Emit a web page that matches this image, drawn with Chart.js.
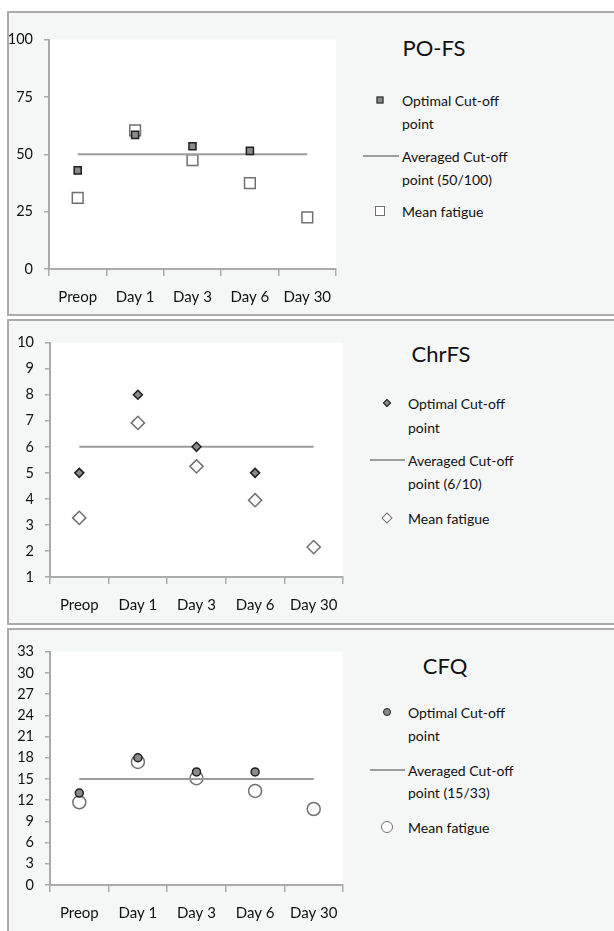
<!DOCTYPE html>
<html>
<head>
<meta charset="utf-8">
<script src="https://cdn.jsdelivr.net/npm/chart.js@4/dist/chart.umd.min.js"></script>
<style>
  html, body { margin: 0; padding: 0; background: #ffffff; overflow: hidden; }
  body { width: 614px; height: 931px; position: relative; font-family: Lato, "Open Sans", sans-serif; color: #111111; }
  .panel { position: absolute; left: 7px; width: 660px; border: 2px solid #ababab; background: #f5f6f6; box-sizing: border-box; }
  .cv { position: absolute; left: 0; }
  .title { position: absolute; font-size: 22px; transform: translate(-50%, -50%); white-space: nowrap; }
  .item { position: absolute; font-size: 14px; line-height: 23px; white-space: nowrap; transform: translateY(-50%); }
  .mk { position: absolute; box-sizing: border-box; transform: translate(-50%, -50%); }
  .seg { position: absolute; height: 2px; background: #9c9c9c; transform: translateY(-50%); }
</style>
</head>
<body>
<div class="panel" style="top:11px;height:305px;"></div>
<div class="panel" style="top:319px;height:306px;"></div>
<div class="panel" style="top:628px;height:330px;"></div>

<canvas id="c1" class="cv"></canvas>
<canvas id="c2" class="cv"></canvas>
<canvas id="c3" class="cv"></canvas>

<div id="legends"></div>

<script>
// categories on the x axis (same for every panel)
const categories = ['Preop', 'Day 1', 'Day 3', 'Day 6', 'Day 30'];

// PO-FS panel
const pofsOptimal = [43, 58.5, 53.5, 51.5, null];
const pofsAveraged = [50, 50, 50, 50, 50];
const pofsMean = [31, 60.5, 47.5, 37.5, 22.5];
const pofsTicks = [0, 25, 50, 75, 100];

// ChrFS panel
const chrfsOptimal = [5, 8, 6, 5, null];
const chrfsAveraged = [6, 6, 6, 6, 6];
const chrfsMean = [3.27, 6.92, 5.25, 3.95, 2.15];
const chrfsTicks = [1, 2, 3, 4, 5, 6, 7, 8, 9, 10];

// CFQ panel
const cfqOptimal = [13, 18, 16, 16, null];
const cfqAveraged = [15, 15, 15, 15, 15];
const cfqMean = [11.7, 17.4, 15.1, 13.3, 10.75];
const cfqTicks = [0, 3, 6, 9, 12, 15, 18, 21, 24, 27, 30, 33];

// legend texts
const optimalLabel = ['Optimal Cut-off', 'point'];
const meanLabel = 'Mean fatigue';

Chart.defaults.font.family = 'Lato, "Open Sans", sans-serif';
Chart.defaults.font.size = 15;
Chart.defaults.color = '#111111';

const axisGrey = '#ababab';

// white plotting area
const plotBackground = {
    id: 'plotBackground',
    beforeDraw(chart) {
        const a = chart.chartArea;
        const ctx = chart.ctx;
        ctx.save();
        ctx.fillStyle = '#ffffff';
        ctx.fillRect(a.left, a.top, a.right - a.left, a.bottom - a.top);
        ctx.restore();
    }
};

const panels = [
    {
        id: 'c1', title: 'PO-FS', style: 'rect', optimal: pofsOptimal, averaged: pofsAveraged, mean: pofsMean,
        ticks: pofsTicks, avgLabel: ['Averaged Cut-off', 'point (50/100)'],
        plotTop: 40, plotBottom: 269, plotLeft: 49, plotRight: 336,
        rOpt: 5, rMean: 7.6,
        legend: { titleX: 434, titleY: 47, markX: 380, textX: 402, segX: 363, rows: [100, 123, 156, 179, 211] }
    },
    {
        id: 'c2', title: 'ChrFS', style: 'rectRot', optimal: chrfsOptimal, averaged: chrfsAveraged, mean: chrfsMean,
        ticks: chrfsTicks, avgLabel: ['Averaged Cut-off', 'point (6/10)'],
        plotTop: 343, plotBottom: 577, plotLeft: 50, plotRight: 343,
        rOpt: 4.5, rMean: 6.6,
        legend: { titleX: 441, titleY: 353, markX: 387, textX: 408, segX: 370, rows: [403, 427, 460, 483, 518] }
    },
    {
        id: 'c3', title: 'CFQ', style: 'circle', optimal: cfqOptimal, averaged: cfqAveraged, mean: cfqMean,
        ticks: cfqTicks, avgLabel: ['Averaged Cut-off', 'point (15/33)'],
        plotTop: 652, plotBottom: 885, plotLeft: 50, plotRight: 343,
        rOpt: 4, rMean: 6.5,
        legend: { titleX: 445, titleY: 665, markX: 387, textX: 408, segX: 370, rows: [712, 735, 770, 792, 827] }
    }
];

function markerHtml(style, filled, x, y, r) {
    const bg = filled ? '#8a8a8a' : '#ffffff';
    const bc = filled ? '#1f1f1f' : '#707070';
    let size, extra = '';
    if (style === 'rect') {
        size = Math.round(r * Math.SQRT2);
    } else if (style === 'rectRot') {
        size = Math.round(r * Math.SQRT2);
        extra = 'transform:translate(-50%,-50%) rotate(45deg);';
    } else {
        size = Math.round(r * 2);
        extra = 'border-radius:50%;';
    }
    return `<div class="mk" style="left:${x}px;top:${y}px;width:${size}px;height:${size}px;background:${bg};border:1.5px solid ${bc};${extra}"></div>`;
}

const legendRoot = document.getElementById('legends');
const xAxisHeight = 41;

panels.forEach(function(p) {
    const el = document.getElementById(p.id);
    const width = p.plotRight + 14;
    const plotH = p.plotBottom - p.plotTop;
    el.style.width = width + 'px';
    el.style.height = (plotH + 20 + xAxisHeight) + 'px';

    const tickMin = p.ticks[0];
    const tickMax = p.ticks[p.ticks.length - 1];
    const step = p.ticks[1] - p.ticks[0];

    const chart = new Chart(el.getContext('2d'), {
        type: 'line',
        data: {
            labels: categories,
            datasets: [
                {
                    label: optimalLabel.join(' '),
                    data: p.optimal,
                    showLine: false,
                    pointStyle: p.style,
                    pointRadius: p.rOpt,
                    pointBackgroundColor: '#8a8a8a',
                    pointBorderColor: '#1f1f1f',
                    pointBorderWidth: 1.5,
                    order: 0
                },
                {
                    label: p.avgLabel.join(' '),
                    data: p.averaged,
                    borderColor: '#9c9c9c',
                    borderWidth: 2,
                    pointRadius: 0,
                    order: 1
                },
                {
                    label: meanLabel,
                    data: p.mean,
                    showLine: false,
                    pointStyle: p.style,
                    pointRadius: p.rMean,
                    pointBackgroundColor: '#ffffff',
                    pointBorderColor: '#707070',
                    pointBorderWidth: 1.5,
                    order: 2
                }
            ]
        },
        options: {
            responsive: false,
            animation: false,
            events: [],
            layout: { padding: { top: 0, right: 14, left: 0, bottom: 0 } },
            plugins: {
                legend: { display: false },
                tooltip: { enabled: false }
            },
            scales: {
                x: {
                    offset: true,
                    grid: { offset: true, drawOnChartArea: false, tickLength: 7, color: axisGrey, lineWidth: 1.5 },
                    border: { color: axisGrey, width: 2 },
                    ticks: { padding: 12, maxRotation: 0, font: { size: 15 } },
                    afterFit: function(scale) { scale.height = xAxisHeight; }
                },
                y: {
                    min: tickMin,
                    max: tickMax,
                    grid: { drawOnChartArea: false, tickLength: 5, color: axisGrey, lineWidth: 1.5 },
                    border: { color: axisGrey, width: 2 },
                    ticks: { stepSize: step, autoSkip: false, padding: 11, font: { size: 14.5 } },
                    afterFit: function(scale) { scale.width = p.plotLeft; }
                }
            }
        },
        plugins: [plotBackground]
    });

    // line the plot area up with where it sits in the picture
    const topGap = Math.round(chart.chartArea.top);
    chart.resize(width, plotH + topGap + xAxisHeight);
    el.style.top = (p.plotTop - Math.round(chart.chartArea.top)) + 'px';

    // legend beside the plot
    const L = p.legend;
    let html = `<div class="title" style="left:${L.titleX}px;top:${L.titleY}px;">${p.title}</div>`;
    html += markerHtml(p.style, true, L.markX, L.rows[0], p.rOpt);
    html += `<div class="item" style="left:${L.textX}px;top:${L.rows[0]}px;">${optimalLabel[0]}</div>`;
    html += `<div class="item" style="left:${L.textX}px;top:${L.rows[1]}px;">${optimalLabel[1]}</div>`;
    html += `<div class="seg" style="left:${L.segX}px;top:${L.rows[2]}px;width:${L.textX - L.segX - 3}px;"></div>`;
    html += `<div class="item" style="left:${L.textX}px;top:${L.rows[2]}px;">${p.avgLabel[0]}</div>`;
    html += `<div class="item" style="left:${L.textX}px;top:${L.rows[3]}px;">${p.avgLabel[1]}</div>`;
    html += markerHtml(p.style, false, L.markX, L.rows[4], p.rMean * 0.9);
    html += `<div class="item" style="left:${L.textX}px;top:${L.rows[4]}px;">${meanLabel}</div>`;
    legendRoot.insertAdjacentHTML('beforeend', html);
});
</script>
</body>
</html>
